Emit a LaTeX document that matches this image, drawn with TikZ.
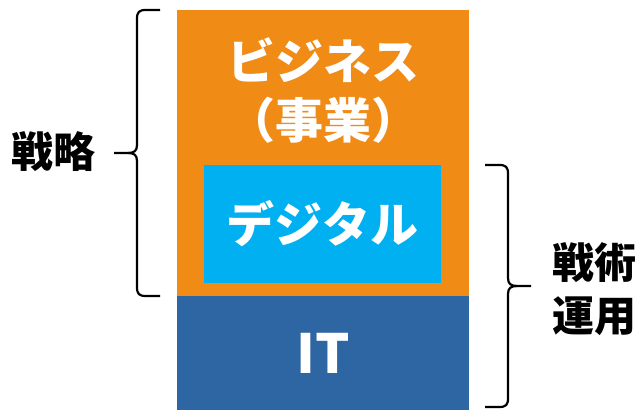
\documentclass[tikz,border=0pt]{standalone}
\usepackage{fontspec}
\newfontfamily\jp{Noto Sans CJK JP}
\definecolor{bizorange}{RGB}{240,139,22}
\definecolor{digcyan}{RGB}{0,176,240}
\definecolor{itblue}{RGB}{46,101,163}
\begin{document}
\begin{tikzpicture}[x=1pt,y=1pt,
  box/.style={draw=none,inner sep=0pt,outer sep=0pt,anchor=south west},
  wlabel/.style={text=white,font=\jp\bfseries\fontsize{48}{58}\selectfont,inner sep=0pt,align=center},
  blabel/.style={text=black,font=\jp\bfseries\fontsize{42}{53}\selectfont,inner sep=0pt,align=center},
  bracepath/.style={draw=black,line width=2.2pt,line join=round}]
\useasboundingbox (0,0) rectangle (636,411);
% boxes
\node[box,fill=bizorange,minimum width=292pt,minimum height=286pt] (biz) at (177,115) {};
\node[box,fill=itblue,minimum width=292pt,minimum height=114pt] (it) at (177,1) {};
\node[box,fill=digcyan,minimum width=237pt,minimum height=118pt] (dig) at (204,128) {};
% labels
\node[wlabel] (bizt) at (323,351) {ビジネス};
\node[wlabel] (jigyo) at (323,291) {（事業）};
\node[wlabel] (digt) at (dig.center) {デジタル};
\node[wlabel,font=\jp\bfseries\fontsize{54}{60}\selectfont] (itt) at (it.center) {IT};
\node[blabel] (senryaku) at (53,259) {戦略};
\node[blabel] (senjutsu) at (594,122) {戦術\\運用};
% braces
\coordinate (lb1) at (160,115);
\coordinate (lb2) at (160,401);
\coordinate (lbt) at (114,258);
\coordinate (rb1) at (485,246);
\coordinate (rb2) at (485,4);
\coordinate (rbt) at (531,125);
\draw[bracepath] (lb2) -- (146,401) .. controls (139,401) and (137,399) .. (137,392)
  -- (137,266) .. controls (137,260) and (134,258) .. (128,258) -- (lbt);
\draw[bracepath] (lb1) -- (146,115) .. controls (139,115) and (137,117) .. (137,124)
  -- (137,250) .. controls (137,256) and (134,258) .. (128,258);
\draw[bracepath] (rb1) -- (499,246) .. controls (506,246) and (508,244) .. (508,237)
  -- (508,133) .. controls (508,127) and (511,125) .. (517,125) -- (rbt);
\draw[bracepath] (rb2) -- (499,4) .. controls (506,4) and (508,6) .. (508,13)
  -- (508,117) .. controls (508,123) and (511,125) .. (517,125);
\end{tikzpicture}
\end{document}
